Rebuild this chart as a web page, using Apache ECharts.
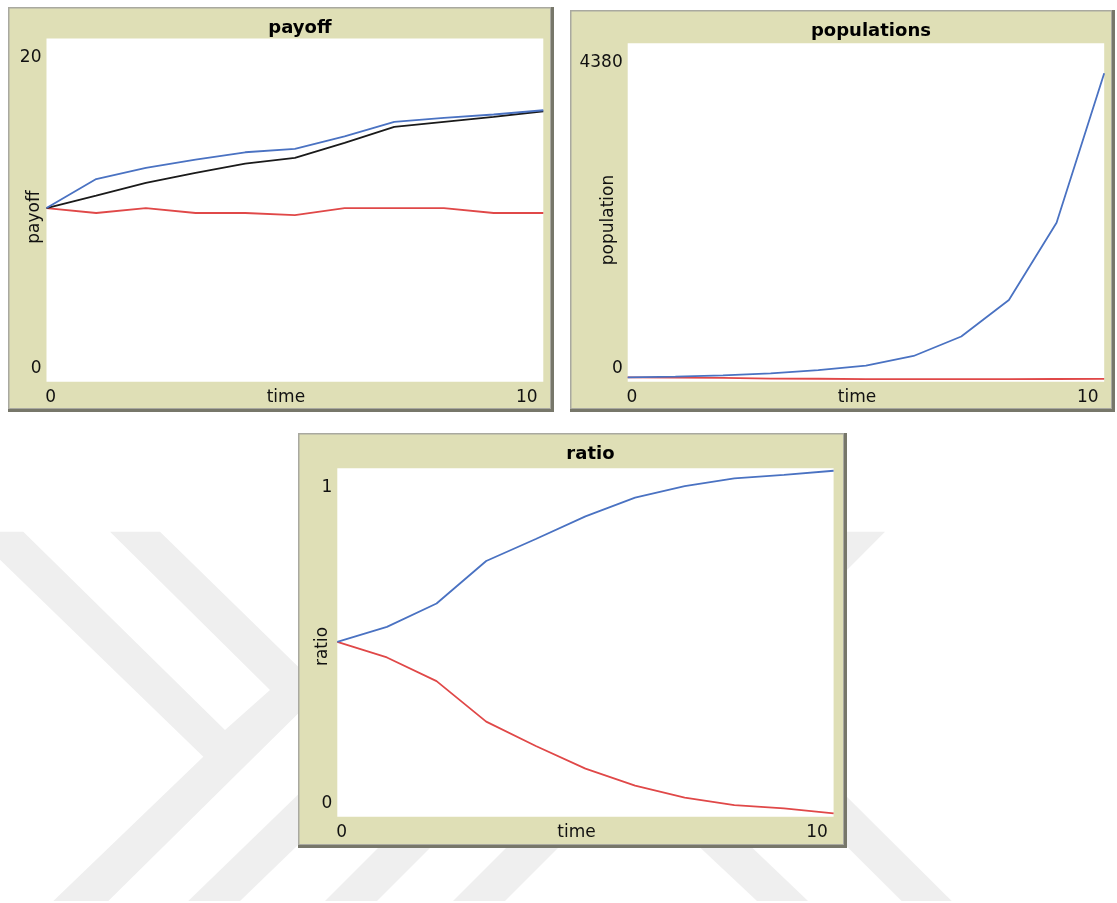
<!DOCTYPE html>
<html>
<head>
<meta charset="utf-8">
<script src="https://cdn.jsdelivr.net/npm/echarts@6/dist/echarts.min.js"></script>
<style>
html,body{margin:0;padding:0;background:#fff;}
#c{width:1117px;height:903px;}
</style>
</head>
<body>
<div id="c"></div>
<script>
// ---- data ----
const time = [0, 1, 2, 3, 4, 5, 6, 7, 8, 9, 10];

const payoffBlue  = [10.12, 11.81, 12.46, 12.94, 13.37, 13.57, 14.30, 15.14, 15.38, 15.57, 15.82];
const payoffBlack = [10.12, 10.84, 11.58, 12.17, 12.71, 13.04, 13.92, 14.85, 15.14, 15.43, 15.76];
const payoffRed   = [10.12, 9.83, 10.12, 9.83, 9.83, 9.71, 10.12, 10.12, 10.12, 9.83, 9.83];

const popBlue = [57, 65, 82, 109, 151, 207, 333, 585, 1057, 2058, 3992];
const popRed  = [57, 54, 49, 41, 38, 34, 33, 33, 34, 35, 36];

const ratioBlue = [0.502, 0.545, 0.612, 0.734, 0.797, 0.862, 0.916, 0.949, 0.971, 0.981, 0.993];
const ratioRed  = [0.502, 0.457, 0.389, 0.273, 0.203, 0.138, 0.089, 0.055, 0.033, 0.024, 0.0096];

const panelTitles = ['payoff', 'populations', 'ratio'];
const yNames = ['payoff', 'population', 'ratio'];
const xName = 'time';
const xRange = [0, 10];
const yRanges = [[0, 20], [0, 4380], [0, 1]];

// ---- styling / layout ----
const FONT = 'DejaVu Sans';
const TXT = '#111';
const BLUE = '#4a72c2';
const RED = '#e04848';
const BLACK = '#1a1a1a';
const BEIGE = '#dfdfb6';

const grids = [
  {left: 46.5, top: 38.5, width: 496.8, height: 343.2},
  {left: 627.7, top: 43.3, width: 476.5, height: 338.4},
  {left: 337.3, top: 468.3, width: 496.3, height: 348.4}
];
const frames = [
  {x: 8, y: 7, w: 546, h: 405},
  {x: 570, y: 10, w: 545, h: 402},
  {x: 298, y: 433, w: 549, h: 415}
];
const nameGaps = [3, 11, 6];
const nameShift = [14, 15, 8];

const gfx = [];
// watermark (light grey chevrons)
const WM = '#efefef';
const wm = [
  [[-29,531.7],[23.3,531.7],[225,730],[270,690],[110,531.7],[160,531.7],[322,690],[108.3,901],[53.3,901],[203.3,756.7]],
  [[188.3,901],[240,901],[360,785],[308,785]],
  [[325,901],[377,901],[440,838],[388,838]],
  [[453,901],[505,901],[568,838],[516,838]],
  [[690,838],[742,838],[808,901],[757,901]],
  [[901.7,901],[951.7,901],[840,790],[790,790]],
  [[800,531.7],[885,531.7],[830,587],[780,587]]
];
wm.forEach(p => gfx.push({type: 'polygon', z: -20, silent: true, shape: {points: p}, style: {fill: WM}}));
frames.forEach(f => {
  gfx.push({type: 'rect', z: -10, silent: true, shape: {x: f.x, y: f.y, width: f.w, height: f.h}, style: {fill: '#77776a'}});
  gfx.push({type: 'rect', z: -9, silent: true, shape: {x: f.x, y: f.y, width: f.w - 3, height: f.h - 3}, style: {fill: '#a9a9a0'}});
  gfx.push({type: 'rect', z: -8, silent: true, shape: {x: f.x + 1.5, y: f.y + 1.5, width: f.w - 5.5, height: f.h - 5.5}, style: {fill: BEIGE}});
});

const series = [];
function addLine(idx, arr, color) {
  series.push({
    type: 'line', xAxisIndex: idx, yAxisIndex: idx,
    data: time.map((t, i) => [t, arr[i]]),
    symbol: 'none', animation: false, silent: true,
    lineStyle: {color: color, width: 1.8}
  });
}
addLine(0, payoffRed, RED);
addLine(0, payoffBlack, BLACK);
addLine(0, payoffBlue, BLUE);
addLine(1, popRed, RED);
addLine(1, popBlue, BLUE);
addLine(2, ratioRed, RED);
addLine(2, ratioBlue, BLUE);

const xAxes = grids.map((g, i) => ({
  type: 'value', gridIndex: i, min: xRange[0], max: xRange[1], interval: xRange[1] - xRange[0],
  name: xName, nameLocation: 'middle', nameGap: 7, nameMoveOverlap: false,
  nameTextStyle: {fontFamily: FONT, fontSize: 17, color: TXT, verticalAlign: 'top', padding: [0, 18, 0, 0]},
  axisLine: {show: false}, axisTick: {show: false}, splitLine: {show: false},
  axisLabel: {
    margin: 7, fontFamily: FONT, fontSize: 17, color: TXT, verticalAlign: 'top',
    formatter: v => (v === xRange[0] ? '{l|' + v + '}' : '{r|' + v + '}'),
    rich: {
      l: {fontFamily: FONT, fontSize: 17, color: TXT, padding: [0, 0, 0, 8.5]},
      r: {fontFamily: FONT, fontSize: 17, color: TXT, padding: [0, 33, 0, 0]}
    }
  }
}));
const yAxes = grids.map((g, i) => ({
  type: 'value', gridIndex: i, min: yRanges[i][0], max: yRanges[i][1], interval: yRanges[i][1] - yRanges[i][0],
  name: yNames[i], nameLocation: 'middle', nameGap: nameGaps[i], nameMoveOverlap: false,
  nameTextStyle: {fontFamily: FONT, fontSize: 17, color: TXT, padding: [0, nameShift[i], 0, 0]},
  axisLine: {show: false}, axisTick: {show: false}, splitLine: {show: false},
  axisLabel: {
    margin: 5, fontFamily: FONT, fontSize: 17, color: TXT,
    formatter: v => (v === yRanges[i][0] ? '{b|' + v + '}' : '{t|' + v + '}'),
    rich: {
      t: {fontFamily: FONT, fontSize: 17, color: TXT, padding: [38, 0, 0, 0]},
      b: {fontFamily: FONT, fontSize: 17, color: TXT, padding: [0, 0, 26, 0]}
    }
  }
}));

const titles = grids.map((g, i) => ({
  text: panelTitles[i], left: g.left + g.width / 2, top: frames[i].y + 7, textAlign: 'center',
  textStyle: {fontFamily: FONT, fontSize: 18, fontWeight: 'bold', color: '#000'}
}));

const chart = echarts.init(document.getElementById('c'), null, {renderer: 'canvas'});
chart.setOption({
  backgroundColor: '#ffffff',
  animation: false,
  title: titles,
  graphic: {elements: gfx},
  grid: grids.map(g => Object.assign({show: true, backgroundColor: '#ffffff', borderWidth: 0, containLabel: false}, g)),
  xAxis: xAxes,
  yAxis: yAxes,
  series: series
});
</script>
</body>
</html>
